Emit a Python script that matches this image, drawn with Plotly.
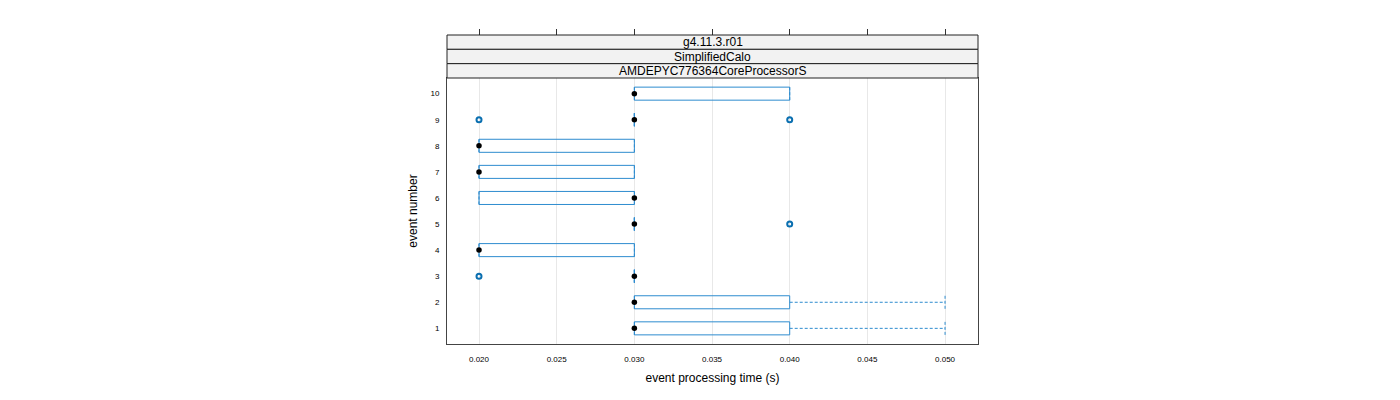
import plotly.graph_objects as go

# ---- data ----
events = [1, 2, 3, 4, 5, 6, 7, 8, 9, 10]
q1 = [0.030, 0.030, 0.030, 0.020, 0.030, 0.020, 0.020, 0.020, 0.030, 0.030]
median = [0.030, 0.030, 0.030, 0.020, 0.030, 0.030, 0.020, 0.020, 0.030, 0.030]
q3 = [0.040, 0.040, 0.030, 0.030, 0.030, 0.030, 0.030, 0.030, 0.030, 0.040]
whisk_lo = [0.030, 0.030, 0.030, 0.020, 0.030, 0.020, 0.020, 0.020, 0.030, 0.030]
whisk_hi = [0.050, 0.050, 0.030, 0.030, 0.030, 0.030, 0.030, 0.030, 0.030, 0.040]
outlier_event = [3, 5, 9, 9]
outlier_value = [0.020, 0.040, 0.020, 0.040]
strip_labels = ["g4.11.3.r01", "SimplifiedCalo", "AMDEPYC776364CoreProcessorS"]
x_ticks = [0.020, 0.025, 0.030, 0.035, 0.040, 0.045, 0.050]

HALF = 0.25
BOX_COL = "#2e8ccf"
OUT_COL = "#0a6fb0"

bx, by = [], []
for e, a, b in zip(events, q1, q3):
    bx += [a, b, b, a, a, None]
    by += [e - HALF, e - HALF, e + HALF, e + HALF, e - HALF, None]

wx, wy = [], []
cx, cy = [], []
for e, a, b, lo, hi in zip(events, q1, q3, whisk_lo, whisk_hi):
    if hi > b:
        wx += [b, hi, None]
        wy += [e, e, None]
    if lo < a:
        wx += [lo, a, None]
        wy += [e, e, None]
    cx += [lo, lo, None, hi, hi, None]
    cy += [e - HALF, e + HALF, None, e - HALF, e + HALF, None]

fig = go.Figure()
fig.add_trace(go.Scatter(x=bx, y=by, mode="lines", line=dict(color=BOX_COL, width=1),
                         hoverinfo="skip", showlegend=False))
fig.add_trace(go.Scatter(x=wx, y=wy, mode="lines", line=dict(color=BOX_COL, width=1, dash="3px,2px"),
                         hoverinfo="skip", showlegend=False))
fig.add_trace(go.Scatter(x=cx, y=cy, mode="lines", line=dict(color=BOX_COL, width=1, dash="3px,2px"),
                         hoverinfo="skip", showlegend=False))
fig.add_trace(go.Scatter(x=outlier_value, y=outlier_event, mode="markers",
                         marker=dict(symbol="circle-open", size=5, color=OUT_COL, line=dict(width=2, color=OUT_COL)),
                         showlegend=False))
fig.add_trace(go.Scatter(x=median, y=events, mode="markers",
                         marker=dict(symbol="circle", size=5.5, color="black"),
                         showlegend=False))
# invisible trace for top tick axis
fig.add_trace(go.Scatter(x=[x_ticks[0], x_ticks[-1]], y=[1, 1], xaxis="x2", mode="markers",
                         marker=dict(opacity=0), hoverinfo="skip", showlegend=False))

W, H = 1400, 400
L, R, T, B = 447, 978, 35, 344
panel_top = 78
plot_h = B - T
ydom_top = (B - panel_top) / plot_h

xr = [0.01794, 0.05212]
fig.update_layout(
    width=W, height=H,
    margin=dict(l=L, r=W - R, t=T, b=H - B),
    paper_bgcolor="white", plot_bgcolor="white",
    font=dict(family="Liberation Sans, Arial, sans-serif", color="black"),
    xaxis=dict(range=xr, tickvals=x_ticks, ticktext=[f"{v:.3f}" for v in x_ticks],
               showgrid=True, gridcolor="#e8e8e8", gridwidth=1, zeroline=False,
               showline=True, linecolor="#444444", linewidth=1, mirror=True,
               ticks="outside", ticklen=7, tickcolor="rgba(0,0,0,0)",
               tickfont=dict(size=8, color="black"),
               title=dict(text="event processing time (s)", font=dict(size=12), standoff=11),
               anchor="y"),
    xaxis2=dict(range=xr, tickvals=x_ticks, overlaying="x", side="top", anchor="free", position=1.0,
                showticklabels=False, ticks="outside", ticklen=6, tickcolor="#333333",
                showgrid=False, zeroline=False, showline=False),
    yaxis=dict(range=[0.4, 10.6], domain=[0, ydom_top], tickvals=events, ticktext=[str(e) for e in events],
               showgrid=False, zeroline=False, showline=True, linecolor="#444444", linewidth=1, mirror=True,
               ticks="outside", ticklen=5, tickcolor="rgba(0,0,0,0)", tickfont=dict(size=8, color="black"),
               title=dict(text="event number", font=dict(size=12), standoff=10)),
)

strip_h = (1 - ydom_top) / 3
for i, lab in enumerate(strip_labels):
    y1 = 1 - i * strip_h
    y0 = y1 - strip_h
    fig.add_shape(type="rect", xref="paper", yref="paper", x0=0, x1=1, y0=y0, y1=y1,
                  fillcolor="#f2f2f2", line=dict(color="#222222", width=1), layer="above")
    fig.add_annotation(xref="paper", yref="paper", x=0.5, y=(y0 + y1) / 2, text=lab,
                       showarrow=False, font=dict(size=12, color="black"), yanchor="middle")

fig.write_html("out.html")
